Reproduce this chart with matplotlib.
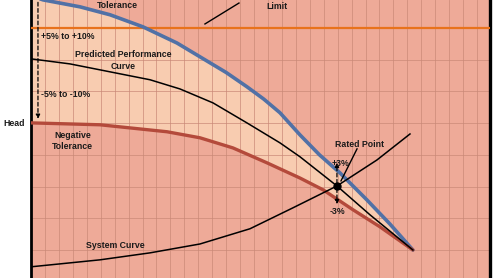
import numpy as np
import matplotlib
matplotlib.use("Agg")
import matplotlib.pyplot as plt

plt.rcParams["font.family"] = ["Liberation Sans", "DejaVu Sans"]

# curves (flow / head in grid units)
blue_flow = [0, 0.86, 3.52, 5.67, 8.03, 10.47, 12.48, 14.0, 15.49, 16.7, 17.86, 19.30, 20.7, 22.17, 24.10, 25.75, 27.40]
blue_head = [9.02, 8.89, 8.67, 8.42, 8.04, 7.53, 7.00, 6.60, 6.15, 5.76, 5.33, 4.63, 4.00, 3.43, 2.58, 1.82, 1.00]

pred_flow = [0, 2.80, 5.67, 8.54, 10.69, 13.06, 15.49, 17.86, 19.30, 21.95, 24.32, 27.40]
pred_head = [7.03, 6.87, 6.62, 6.37, 6.08, 5.64, 5.01, 4.38, 3.94, 3.02, 2.11, 1.00]

red_flow = [0, 4.95, 9.76, 12.12, 14.49, 16.93, 19.30, 20.95, 23.10, 25.04, 27.40]
red_head = [5.01, 4.95, 4.73, 4.54, 4.22, 3.75, 3.27, 2.90, 2.27, 1.73, 1.00]

sys_flow = [0, 4.95, 8.54, 12.12, 15.71, 18.79, 21.95, 24.82, 27.19]
sys_head = [0.47, 0.69, 0.91, 1.19, 1.67, 2.33, 3.02, 3.84, 4.66]

rated_flow, rated_head = 21.95, 3.02
limit_head = 8.0

bg = "#eeaa98"
fill_col = "#f8ccb0"
grid_col = "#c98877"
txt = "#1a1a1a"

fig = plt.figure(figsize=(5, 2.78), dpi=100)
ax = fig.add_axes([31 / 500, 0, 459 / 500, 1])
ax.set_facecolor(bg)
ax.set_xlim(0, 32.93)
ax.set_ylim(0.117, 8.886)

# band between positive and negative tolerance
poly_x = blue_flow + red_flow[::-1]
poly_y = blue_head + red_head[::-1]
ax.fill(poly_x, poly_y, color=fill_col, zorder=1, lw=0)

for gx in np.arange(1, 33):
    ax.axvline(gx, color=grid_col, lw=0.6, alpha=0.8, zorder=2)
for gy in np.arange(1, 9):
    ax.axhline(gy, color=grid_col, lw=0.6, alpha=0.8, zorder=2)

ax.axhline(limit_head, color="#e8721c", lw=1.6, zorder=3)
ax.plot(blue_flow, blue_head, color="#5171a6", lw=2.6, zorder=4, solid_capstyle="round")
ax.plot(red_flow, red_head, color="#b44a3b", lw=2.4, zorder=4, solid_capstyle="round")
ax.plot(pred_flow, pred_head, color="black", lw=1.1, zorder=5)
ax.plot(sys_flow, sys_head, color="black", lw=1.1, zorder=5)
ax.plot(rated_flow, rated_head, "o", color="black", ms=5, zorder=6)

# tolerance arrows
arr = dict(arrowstyle="-|>", color="black", lw=0.9, ls=(0, (3, 2)), mutation_scale=6)
ax.annotate("", xy=(0.5, 5.05), xytext=(0.5, 8.9), arrowprops=arr, zorder=6)
ax.annotate("", xy=(rated_flow, 3.84), xytext=(rated_flow, rated_head), arrowprops=arr, zorder=6)
ax.annotate("", xy=(rated_flow, 2.36), xytext=(rated_flow, rated_head), arrowprops=arr, zorder=6)

# pointer lines
ax.plot([12.48, 14.92], [8.13, 8.79], color="black", lw=1.0, zorder=5)
ax.plot([22.24, 23.39], [3.18, 4.19], color="black", lw=1.0, zorder=5)

fs = 6.3
kw = dict(fontsize=fs, fontweight="bold", color=txt, zorder=7)
ax.text(6.17, 8.70, "Tolerance", ha="center", va="center", **kw)
ax.text(17.65, 8.67, "Limit", ha="center", va="center", **kw)
ax.text(0.75, 7.75, "+5% to +10%", ha="left", va="center", **kw)
ax.text(0.75, 5.92, "-5% to -10%", ha="left", va="center", **kw)
ax.text(6.6, 6.98, "Predicted Performance\nCurve", ha="center", va="center",
        linespacing=1.5, **kw)
ax.text(3.0, 4.44, "Negative\nTolerance", ha="center", va="center", linespacing=1.4, **kw)
ax.text(6.03, 1.13, "System Curve", ha="center", va="center", **kw)
ax.text(23.6, 4.34, "Rated Point", ha="center", va="center", **kw)
ax.text(22.17, 3.74, "+3%", ha="center", va="center", **kw)
ax.text(22.02, 2.20, "-3%", ha="center", va="center", **kw)
fig.text(14 / 500, 1 - 123 / 278, "Head", ha="center", va="center", **kw)

ax.set_xticks([])
ax.set_yticks([])
ax.spines["top"].set_visible(False)
ax.spines["bottom"].set_visible(False)
ax.spines["left"].set_linewidth(2)
ax.spines["right"].set_linewidth(2.4)

fig.savefig("out.png", dpi=100)
